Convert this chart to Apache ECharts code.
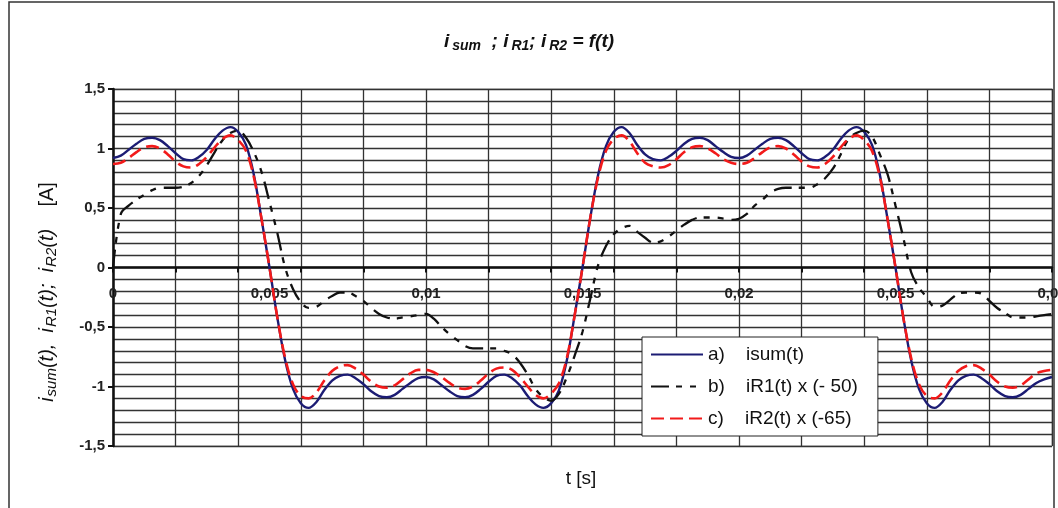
<!DOCTYPE html>
<html>
<head>
<meta charset="utf-8">
<script src="https://cdn.jsdelivr.net/npm/echarts@6/dist/echarts.min.js"></script>
<style>
html,body{margin:0;padding:0;background:#fff;}
#chart{width:1058px;height:508px;}
</style>
</head>
<body>
<div id="chart"></div>
<script>
// time axis [s]
const time = [0,0.00025,0.0005,0.00075,0.001,0.00125,0.0015,0.00175,0.002,0.00225,0.0025,0.00275,0.003,0.00325,0.0035,0.00375,0.004,0.00425,0.0045,0.00475,
0.005,0.00525,0.0055,0.00575,0.006,0.00625,0.0065,0.00675,0.007,0.00725,0.0075,0.00775,0.008,0.00825,0.0085,0.00875,0.009,0.00925,0.0095,0.00975,
0.01,0.01025,0.0105,0.01075,0.011,0.01125,0.0115,0.01175,0.012,0.01225,0.0125,0.01275,0.013,0.01325,0.0135,0.01375,0.014,0.01425,0.0145,0.01475,
0.015,0.01525,0.0155,0.01575,0.016,0.01625,0.0165,0.01675,0.017,0.01725,0.0175,0.01775,0.018,0.01825,0.0185,0.01875,0.019,0.01925,0.0195,0.01975,
0.02,0.02025,0.0205,0.02075,0.021,0.02125,0.0215,0.02175,0.022,0.02225,0.0225,0.02275,0.023,0.02325,0.0235,0.02375,0.024,0.02425,0.0245,0.02475,
0.025,0.02525,0.0255,0.02575,0.026,0.02625,0.0265,0.02675,0.027,0.02725,0.0275,0.02775,0.028,0.02825,0.0285,0.02875,0.029,0.02925,0.0295,0.02975,
0.03];

// a) isum(t)
const iSum = [0.92,0.94,0.99,1.04,1.08,1.09,1.07,1.02,0.96,0.91,0.90,0.93,0.99,1.08,1.15,1.18,1.14,1.03,0.78,0.40,
0.00,-0.42,-0.78,-1.02,-1.14,-1.18,-1.13,-1.03,-0.95,-0.91,-0.90,-0.93,-0.98,-1.04,-1.08,-1.09,-1.07,-1.02,-0.97,-0.93,
-0.92,-0.94,-0.99,-1.04,-1.08,-1.09,-1.07,-1.02,-0.96,-0.91,-0.90,-0.93,-0.99,-1.08,-1.15,-1.18,-1.14,-1.03,-0.78,-0.40,
0.00,0.42,0.78,1.02,1.14,1.18,1.13,1.03,0.95,0.91,0.90,0.93,0.98,1.04,1.08,1.09,1.07,1.02,0.97,0.93,
0.92,0.94,0.99,1.04,1.08,1.09,1.07,1.02,0.96,0.91,0.90,0.93,0.99,1.08,1.15,1.18,1.14,1.03,0.78,0.40,
0.00,-0.42,-0.78,-1.02,-1.14,-1.18,-1.13,-1.03,-0.95,-0.91,-0.90,-0.93,-0.98,-1.04,-1.08,-1.09,-1.07,-1.02,-0.97,-0.94,
-0.92];

// b) iR1(t) x (-50)
const iR1 = [0.00,0.45,0.52,0.57,0.61,0.65,0.67,0.67,0.67,0.68,0.71,0.77,0.86,0.97,1.07,1.13,1.15,1.09,0.97,0.80,
0.55,0.29,0.00,-0.18,-0.29,-0.34,-0.33,-0.28,-0.24,-0.21,-0.21,-0.24,-0.28,-0.34,-0.39,-0.42,-0.43,-0.42,-0.41,-0.40,
-0.39,-0.43,-0.50,-0.56,-0.61,-0.66,-0.68,-0.68,-0.68,-0.68,-0.70,-0.73,-0.80,-0.90,-1.02,-1.09,-1.12,-1.06,-0.92,-0.74,
-0.54,-0.26,0.02,0.18,0.28,0.33,0.35,0.30,0.25,0.21,0.22,0.26,0.31,0.36,0.40,0.42,0.42,0.42,0.41,0.40,
0.41,0.45,0.52,0.57,0.63,0.66,0.67,0.67,0.67,0.67,0.70,0.75,0.83,0.95,1.08,1.13,1.15,1.10,0.95,0.78,
0.52,0.25,-0.04,-0.17,-0.25,-0.33,-0.32,-0.27,-0.22,-0.21,-0.21,-0.22,-0.28,-0.34,-0.38,-0.42,-0.42,-0.42,-0.41,-0.40,
-0.39];

// c) iR2(t) x (-65)
const iR2 = [0.87,0.88,0.92,0.97,1.01,1.02,1.00,0.95,0.89,0.85,0.84,0.87,0.93,1.01,1.08,1.11,1.07,0.98,0.76,0.40,
0.00,-0.42,-0.76,-0.98,-1.08,-1.10,-1.05,-0.95,-0.87,-0.83,-0.82,-0.85,-0.90,-0.96,-1.00,-1.01,-0.99,-0.94,-0.89,-0.86,
-0.86,-0.88,-0.92,-0.97,-1.01,-1.02,-1.00,-0.95,-0.89,-0.85,-0.84,-0.86,-0.92,-1.00,-1.07,-1.10,-1.06,-0.97,-0.76,-0.40,
0.00,0.42,0.76,0.98,1.08,1.11,1.06,0.96,0.88,0.85,0.84,0.86,0.91,0.97,1.01,1.02,1.00,0.96,0.91,0.88,
0.87,0.88,0.92,0.97,1.01,1.02,1.00,0.95,0.89,0.85,0.84,0.87,0.93,1.01,1.08,1.11,1.07,0.98,0.76,0.40,
0.00,-0.42,-0.76,-0.98,-1.08,-1.10,-1.05,-0.95,-0.87,-0.83,-0.82,-0.85,-0.90,-0.96,-1.00,-1.01,-0.99,-0.94,-0.89,-0.87,
-0.86];

const xTickLabels = ['0','0,005','0,01','0,015','0,02','0,025','0,03'];
const yTickLabels = ['-1,5','-1','-0,5','0','0,5','1','1,5'];
const seriesNames = ['a)    isum(t)', 'b)    iR1(t) x (- 50)', 'c)    iR2(t) x (-65)'];

const FONT = 'Arial, "Liberation Sans", Helvetica, sans-serif';
const GRID_COLOR = '#333';
const GRID_TOP = 89, GRID_BOTTOM = 62, CHART_H = 508;
// the label axis sits on the y = 0 line (middle of the symmetric y range)
const LABEL_OFFSET = -((CHART_H - GRID_TOP - GRID_BOTTOM) / 2);
const pairs = arr => time.map((t, i) => [t, arr[i]]);

const chart = echarts.init(document.getElementById('chart'), null, {renderer: 'canvas'});

const option = {
  animation: false,
  backgroundColor: '#fff',
  title: {
    text: '{i|i}{s|sum}{i|  ; i}{s|R1}{i|; i}{s|R2}{i| = f(t)}',
    left: 'center',
    top: 25,
    textStyle: {
      rich: {
        i: {fontSize: 19, fontStyle: 'italic', fontFamily: FONT, color: '#111'},
        s: {fontSize: 14, fontStyle: 'italic', fontFamily: FONT, color: '#111', padding: [9, 0, 0, 3]}
      }
    }
  },
  grid: {
    left: 113, top: GRID_TOP, right: 6, bottom: GRID_BOTTOM,
    show: true, borderColor: '#c4c4c4', borderWidth: 1.5,
    outerBoundsMode: 'none', containLabel: false
  },
  xAxis: [
    {
      type: 'value', min: 0, max: 0.03, interval: 0.002,
      axisLine: {onZero: true, lineStyle: {color: '#111', width: 2.5}},
      axisTick: {show: true, length: 5, lineStyle: {color: '#111', width: 2}},
      axisLabel: {show: false},
      splitLine: {show: true, lineStyle: {color: GRID_COLOR, width: 1.3}}
    },
    {
      type: 'value', min: 0, max: 0.03, interval: 0.005, position: 'bottom',
      offset: LABEL_OFFSET,
      axisLine: {show: false, onZero: false},
      axisTick: {show: false},
      splitLine: {show: false},
      axisLabel: {
        show: true, margin: 19, fontSize: 15, fontWeight: 'bold', color: '#222', fontFamily: FONT,
        showMinLabel: true, showMaxLabel: true, hideOverlap: false,
        formatter: v => xTickLabels[Math.round(v / 0.005)]
      }
    }
  ],
  yAxis: {
    type: 'value', min: -1.5, max: 1.5, interval: 0.5,
    axisLine: {show: true, onZero: false, lineStyle: {color: '#111', width: 2.5}},
    axisTick: {show: true, length: 5, lineStyle: {color: '#111', width: 2}},
    minorTick: {show: false, splitNumber: 5},
    splitLine: {show: true, lineStyle: {color: GRID_COLOR, width: 1.3}},
    minorSplitLine: {show: true, lineStyle: {color: GRID_COLOR, width: 1.3}},
    axisLabel: {
      margin: 8, fontSize: 15, fontWeight: 'bold', color: '#222', fontFamily: FONT,
      formatter: v => yTickLabels[Math.round((v + 1.5) / 0.5)]
    }
  },
  legend: {
    orient: 'vertical', left: 642, top: 337,
    padding: [8, 20, 8, 8], itemGap: 13, itemWidth: 52, itemHeight: 14,
    backgroundColor: '#fff', borderColor: '#222', borderWidth: 1,
    itemStyle: {opacity: 0},
    textStyle: {fontSize: 19, color: '#111', fontFamily: FONT},
    data: seriesNames
  },
  series: [
    {
      name: seriesNames[0], type: 'line', data: pairs(iSum), xAxisIndex: 0,
      symbol: 'none', smooth: 0.35,
      lineStyle: {color: '#1c1c74', width: 2.4, type: 'solid'},
      itemStyle: {color: '#1c1c74'}
    },
    {
      name: seriesNames[1], type: 'line', data: pairs(iR1), xAxisIndex: 0,
      symbol: 'none', smooth: 0.35,
      lineStyle: {color: '#111', width: 2.3, type: [18, 7, 6, 8, 6, 8]},
      itemStyle: {color: '#111'}
    },
    {
      name: seriesNames[2], type: 'line', data: pairs(iR2), xAxisIndex: 0,
      symbol: 'none', smooth: 0.35,
      lineStyle: {color: '#f21a1a', width: 2.6, type: [13, 6]},
      itemStyle: {color: '#f21a1a'}
    }
  ],
  graphic: [
    {
      type: 'rect', silent: true, z: 100,
      shape: {x: 9, y: 2, width: 1045, height: 530},
      style: {fill: 'none', stroke: '#333', lineWidth: 1.5}
    },
    {
      type: 'text', silent: true, x: 47, y: 292, rotation: Math.PI / 2,
      style: {
        text: '{i|i}{s|sum}{i|(t),  i}{s|R1}{i|(t);  i}{s|R2}{i|(t)}{n|    [A]}',
        align: 'center', verticalAlign: 'middle',
        rich: {
          i: {fontSize: 20, fontStyle: 'italic', fontFamily: FONT, fill: '#111'},
          s: {fontSize: 15, fontStyle: 'italic', fontFamily: FONT, fill: '#111', padding: [9, 0, 0, 1]},
          n: {fontSize: 20, fontFamily: FONT, fill: '#111'}
        }
      }
    },
    {
      type: 'text', silent: true, x: 581, y: 479,
      style: {text: 't [s]', fontSize: 19, fontFamily: FONT, fill: '#111', align: 'center', verticalAlign: 'middle'}
    }
  ]
};

chart.setOption(option);
</script>
</body>
</html>
